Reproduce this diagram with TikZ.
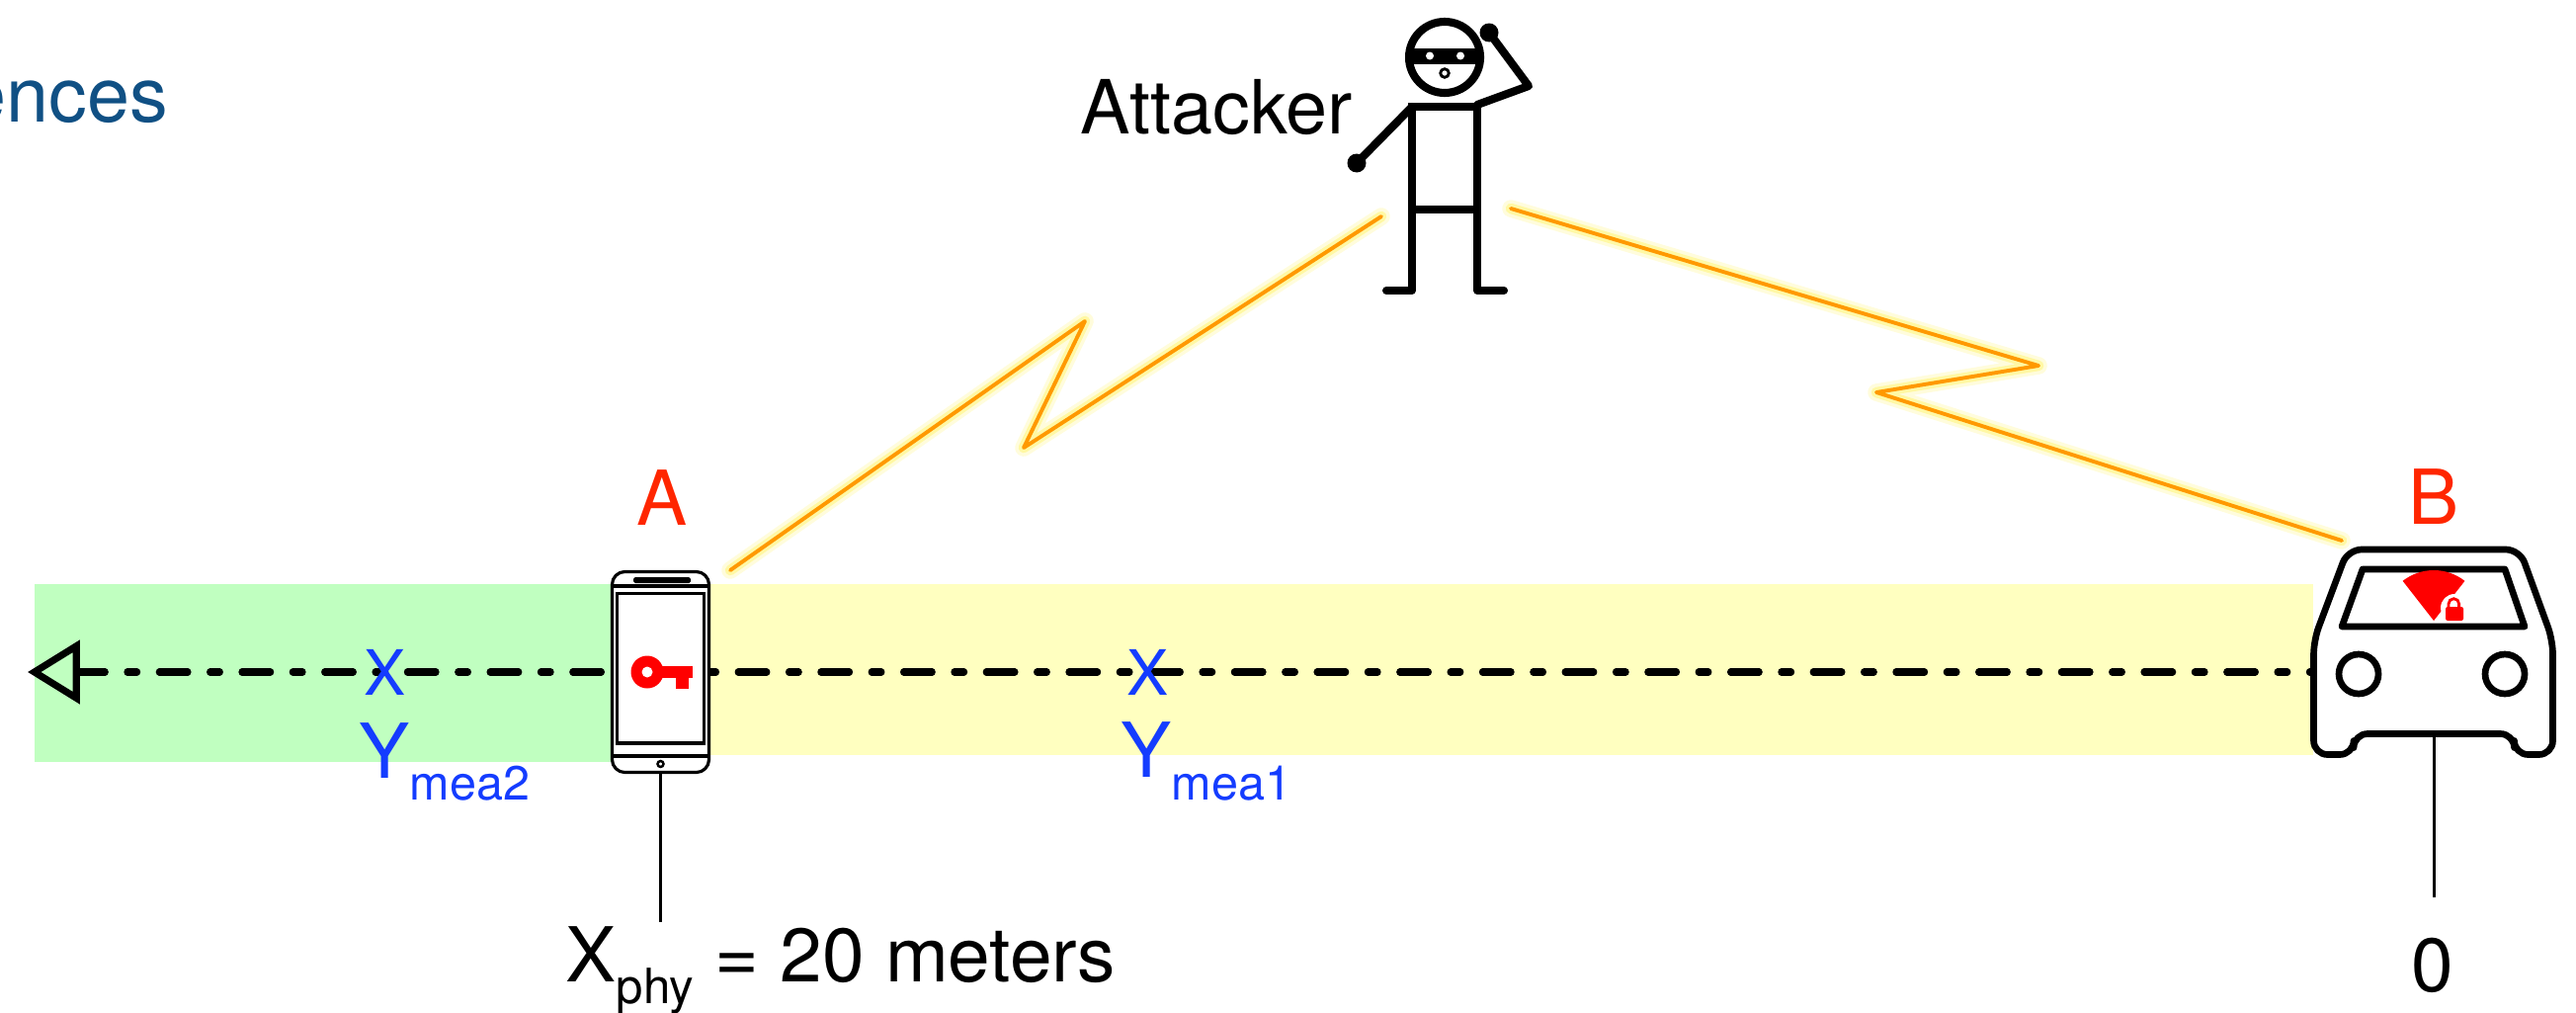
\documentclass[tikz,border=0pt]{standalone}
\usepackage{fontspec}
\setmainfont{TeX Gyre Heros}
\usetikzlibrary{arrows.meta}
\definecolor{bandgreen}{RGB}{192,255,192}
\definecolor{bandyellow}{RGB}{255,255,192}
\definecolor{boltorange}{RGB}{255,153,0}
\definecolor{glowyellow}{RGB}{255,240,60}
\definecolor{labelred}{RGB}{255,38,0}
\definecolor{iconred}{RGB}{255,0,0}
\definecolor{markblue}{RGB}{20,60,255}
\definecolor{titleblue}{RGB}{16,80,132}
\newcommand{\mainsize}{\fontsize{21.8}{26}\selectfont}
\newcommand{\subsize}{\fontsize{13.8}{16}\selectfont}
\begin{document}
\begin{tikzpicture}[x=0.01cm, y=-0.01cm,
  bolt/.style={draw=boltorange, line width=1.1pt, line join=round, line cap=round,
    preaction={draw=glowyellow, line width=5pt, opacity=0.18, line join=round, line cap=round},
    preaction={draw=glowyellow, line width=3pt, opacity=0.35, line join=round, line cap=round}},
  axisline/.style={line width=2pt, line cap=round,
    dash pattern=on 8.2pt off 6.4pt on 2.8pt off 6.4pt, dash phase=8pt,
    -{Triangle[open, length=15pt, width=18pt, line width=2pt]}},
  tick/.style={line width=0.85pt},
  figure/.style={line width=2.3pt, line cap=round, line join=round},
  carline/.style={line width=1.9pt, line join=round, line cap=round},
  xmark/.style={text=markblue, inner sep=0, font=\fontsize{18}{20}\selectfont},
  ylabel/.style={text=markblue, inner sep=0, anchor=base west},
  devlabel/.style={text=labelred, inner sep=0, anchor=base, font=\mainsize},
  txt/.style={inner sep=0, font=\mainsize}]
\useasboundingbox (0,0) rectangle (2607,1024);

% heading fragment
\node[inner sep=0, anchor=base east, text=titleblue, font=\fontsize{22}{26}\selectfont] (heading) at (171,123) {ences};

% distance bands
\fill[bandgreen] (35,591) rectangle (668,771);
\fill[bandyellow] (668,591) rectangle (2341,764);

% measurement axis, from the car towards the left
\coordinate (carleft) at (2338,680);
\coordinate (axisend) at (28,680);
\draw[axisline] (carleft) -- (axisend);

% phone (device A)
\node[draw, fill=white, line width=0.9pt, rounded corners=3.7pt,
      minimum width=0.98cm, minimum height=2.03cm, inner sep=0] (phone) at (668.5,680) {};
\draw[line width=0.9pt] (619.5,593) -- (717.5,593);
\draw[line width=0.9pt] (619.5,765) -- (717.5,765);
\fill[rounded corners=0.5pt] (641,584) rectangle (699,590);
\draw[line width=0.9pt] (624.5,600.5) rectangle (712.5,752);
\draw[line width=0.7pt] (668.5,773) circle[radius=3];
% key icon
\fill[iconred] (655,680) circle[radius=16.5];
\fill[iconred] (665,674) rectangle (701,685.5);
\fill[iconred] (684,684) rectangle (697,697);
\fill[white] (655,680) circle[radius=5.5];
\coordinate (phonetick) at (668.5,933);
\draw[tick] (phone.south) -- (phonetick);

% car (device B)
\fill[white] (2341.5,763.5) -- (2341.5,648) -- (2376,556) -- (2550,556) -- (2583.5,648)
  -- (2583.5,763.5) -- cycle;
\draw[carline, rounded corners=4pt] (2341.5,763.5) -- (2341.5,648) -- (2376,556) -- (2550,556)
  -- (2583.5,648) -- (2583.5,763.5) -- (2544.5,763.5) -- (2544.5,742.5) -- (2382,742.5)
  -- (2382,763.5) -- cycle;
\draw[carline] (2391,576) -- (2535,576) -- (2555,634) -- (2370,634) -- cycle;
\draw[carline] (2387,682) circle[radius=20];
\draw[carline] (2535,682) circle[radius=20];
% signal fan with padlock
\fill[iconred] (2463,628) -- ++(232:51) arc[start angle=232, end angle=308, radius=51] -- cycle;
\fill[white] (2484,615) circle[radius=14];
\draw[iconred, line width=0.8pt] (2478,616) -- (2478,611) arc[start angle=180, end angle=360, radius=5.3] -- (2488.6,616);
\fill[iconred, rounded corners=0.6pt] (2475,614) rectangle (2493,628);
\coordinate (carbottom) at (2463,742.5);
\coordinate (cartick) at (2463,908);
\draw[tick] (carbottom) -- (cartick);

% attacker figure
\begin{scope}
  \clip (1462,58) circle[radius=36];
  \fill (1415,49) rectangle (1510,65);
\end{scope}
\draw[figure] (1462,58) circle[radius=36];
\fill[white] (1447,56.5) circle[radius=4];
\fill[white] (1478,56.5) circle[radius=4];
\draw[fill=white, line width=0.8pt] (1462,74) circle[radius=4.3];
\draw[figure, line join=miter] (1429,108) rectangle (1495,212);
\draw[figure] (1429,108) -- (1373,165);
\fill (1373,165) circle[radius=9.5];
\draw[figure] (1495,106) -- (1547,87) -- (1507,33);
\fill (1507,33) circle[radius=9.5];
\draw[figure] (1429,212) -- (1429,294) -- (1403,294);
\draw[figure] (1495,212) -- (1495,294) -- (1522,294);
\node[txt, anchor=base west, font=\fontsize{21.5}{26}\selectfont] (attacker) at (1093,135) {Attacker};

% relay links
\coordinate (phonelink) at (739,577);
\coordinate (p1) at (1098,325);
\coordinate (p2) at (1036,453);
\coordinate (attleft) at (1398,219);
\coordinate (attright) at (1529,211);
\coordinate (q1) at (2063,370);
\coordinate (q2) at (1899,397);
\coordinate (carlink) at (2370,547);
\draw[bolt] (phonelink) -- (p1) -- (p2) -- (attleft);
\draw[bolt] (attright) -- (q1) -- (q2) -- (carlink);

% device labels
\node[devlabel] (labA) at (670,531) {A};
\node[devlabel] (labB) at (2463.5,530) {B};

% measured positions
\node[xmark] (mark2) at (390,680) {X};
\node[xmark] (mark1) at (1162,680) {X};
\node[ylabel] (ymea2) at (363,787) {\mainsize Y\raisebox{-6.3pt}{\subsize mea2}};
\node[ylabel] (ymea1) at (1134,786) {\mainsize Y\raisebox{-6.8pt}{\subsize mea1}};

% distance labels
\node[txt, anchor=base west] (xphy) at (572,993) {X\raisebox{-6.5pt}{\fontsize{14}{16}\selectfont phy} = 20 meters};
\node[txt, anchor=base] (zero) at (2462,1003) {0};
\end{tikzpicture}
\end{document}
